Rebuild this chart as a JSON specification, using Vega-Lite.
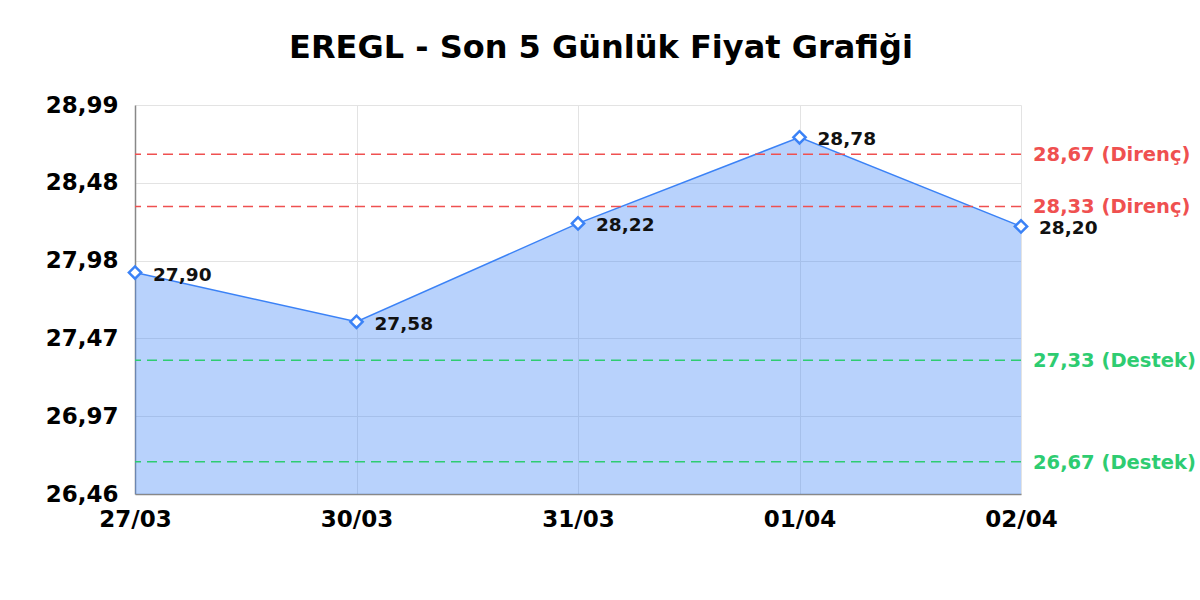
{
  "$schema": "https://vega.github.io/schema/vega-lite/v6.json",
  "autosize": {"type": "none"},
  "padding": {"left": 135, "top": 105, "right": 179, "bottom": 106},
  "width": 886,
  "height": 389,
  "background": "white",
  "title": {
    "text": "EREGL - Son 5 Günlük Fiyat Grafiği",
    "font": "DejaVu Sans",
    "fontSize": 32,
    "fontWeight": "bold",
    "color": "#000000",
    "anchor": "middle",
    "dx": 23,
    "baseline": "alphabetic",
    "offset": 4
  },
  "config": {
    "view": {"stroke": null},
    "axis": {
      "labelFont": "DejaVu Sans",
      "labelFontWeight": "bold",
      "labelColor": "#000000",
      "ticks": false,
      "domainColor": "#888888",
      "domainWidth": 1.5,
      "gridColor": "#e3e3e3",
      "gridWidth": 1,
      "title": null
    }
  },
  "datasets": {
    "prices": [
      {"date": "27/03", "price": 27.90, "label": "27,90"},
      {"date": "30/03", "price": 27.58, "label": "27,58"},
      {"date": "31/03", "price": 28.22, "label": "28,22"},
      {"date": "01/04", "price": 28.78, "label": "28,78"},
      {"date": "02/04", "price": 28.20, "label": "28,20"}
    ],
    "levels": [
      {"level": 28.67, "kind": "Direnç", "label": "28,67 (Direnç)"},
      {"level": 28.33, "kind": "Direnç", "label": "28,33 (Direnç)"},
      {"level": 27.33, "kind": "Destek", "label": "27,33 (Destek)"},
      {"level": 26.67, "kind": "Destek", "label": "26,67 (Destek)"}
    ]
  },
  "encoding": {
    "x": {
      "field": "date",
      "type": "ordinal",
      "sort": null,
      "scale": {"type": "point", "padding": 0},
      "axis": {"labelAngle": 0, "labelFontSize": 23, "labelPadding": 14, "grid": true}
    }
  },
  "layer": [
    {
      "data": {"name": "prices"},
      "mark": {"type": "area", "color": "#3b82f6", "opacity": 0.36},
      "encoding": {
        "y": {
          "field": "price",
          "type": "quantitative",
          "scale": {"domain": [26.46, 28.99], "zero": false, "nice": false},
          "axis": {
            "values": [26.46, 26.966, 27.472, 27.978, 28.484, 28.99],
            "labelExpr": "replace(format(datum.value, '.2f'), '.', ',')",
            "labelFontSize": 23,
            "labelPadding": 17
          }
        },
        "y2": {"datum": 26.46}
      }
    },
    {
      "data": {"name": "prices"},
      "mark": {"type": "line", "color": "#3b82f6", "strokeWidth": 1.5},
      "encoding": {"y": {"field": "price", "type": "quantitative"}}
    },
    {
      "data": {"name": "levels"},
      "mark": {"type": "rule", "strokeDash": [10, 6], "strokeWidth": 1.5},
      "encoding": {
        "x": null,
        "y": {"field": "level", "type": "quantitative"},
        "color": {
          "field": "kind",
          "type": "nominal",
          "scale": {"domain": ["Direnç", "Destek"], "range": ["#ef5050", "#2ecc71"]},
          "legend": null
        }
      }
    },
    {
      "data": {"name": "levels"},
      "mark": {
        "type": "text",
        "align": "left",
        "baseline": "middle",
        "dx": 12,
        "dy": 1,
        "font": "DejaVu Sans",
        "fontWeight": "bold",
        "fontSize": 19.5
      },
      "encoding": {
        "x": {"datum": "02/04"},
        "y": {"field": "level", "type": "quantitative"},
        "text": {"field": "label"},
        "color": {"field": "kind", "type": "nominal", "legend": null}
      }
    },
    {
      "data": {"name": "prices"},
      "mark": {
        "type": "point",
        "shape": "diamond",
        "filled": true,
        "fill": "white",
        "stroke": "#3b82f6",
        "strokeWidth": 2.5,
        "size": 150,
        "opacity": 1
      },
      "encoding": {"y": {"field": "price", "type": "quantitative"}}
    },
    {
      "data": {"name": "prices"},
      "mark": {
        "type": "text",
        "align": "left",
        "baseline": "middle",
        "dx": 18,
        "dy": 2,
        "font": "DejaVu Sans",
        "fontWeight": "bold",
        "fontSize": 18.5,
        "color": "#111111"
      },
      "encoding": {
        "y": {"field": "price", "type": "quantitative"},
        "text": {"field": "label"}
      }
    }
  ]
}
